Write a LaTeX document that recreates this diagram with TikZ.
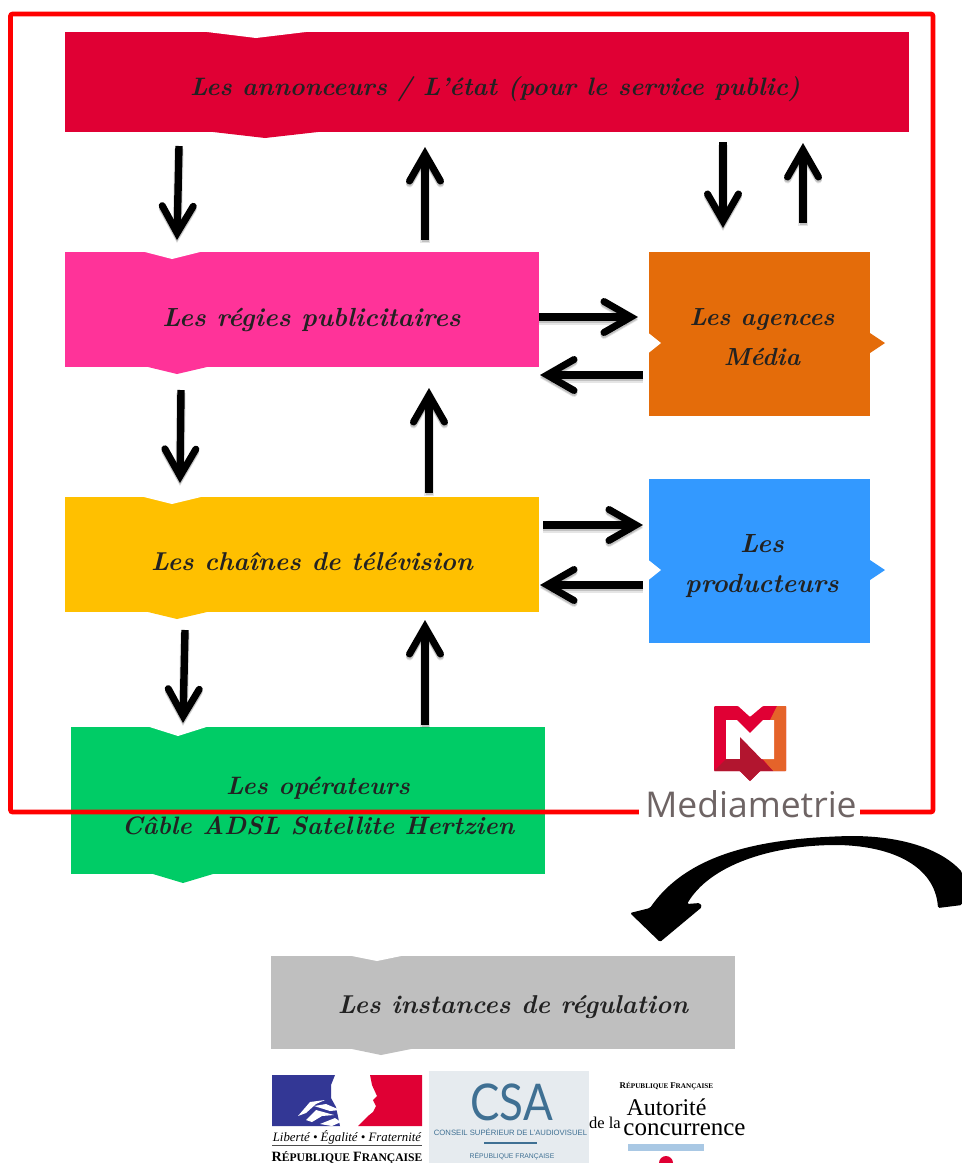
\documentclass[tikz,border=0pt]{standalone}
\usepackage{fontspec}
\usetikzlibrary{arrows.meta}
\newfontfamily\logofont{Open Sans}
\newfontfamily\csafont{Lato}
\newfontfamily\serifB{Liberation Serif}
\newfontfamily\sansB{Liberation Sans}
\definecolor{cred}{HTML}{E00034}
\definecolor{cpink}{HTML}{FF3399}
\definecolor{cyellow}{HTML}{FFC000}
\definecolor{cgreen}{HTML}{00CC66}
\definecolor{corange}{HTML}{E46C0A}
\definecolor{cblue}{HTML}{3399FF}
\definecolor{cgray}{HTML}{BFBFBF}
\definecolor{cframe}{HTML}{FF0000}
\definecolor{ink}{HTML}{222222}
\definecolor{mgray}{HTML}{6E6464}
\definecolor{csablue}{HTML}{3F7093}
\definecolor{morange}{HTML}{E5632A}
\definecolor{mdark}{HTML}{B2152F}
\definecolor{rfblue}{HTML}{333795}
\definecolor{csabg}{HTML}{E6EBEF}
\definecolor{acbar}{HTML}{A9C8E4}
\tikzset{
  box/.style={rectangle,inner sep=0pt,outer sep=0pt,draw=none},
  tx/.style={font=\fontsize{#1}{40}\selectfont\itshape\bfseries,text=ink,align=center,inner sep=0pt},
  arr/.style={line width=7.4pt,draw=black,
    -{Straight Barb[length=27pt,width=31pt,line width=7pt,line cap=round,line join=miter]},
    preaction={draw=black,opacity=.10,line width=9.5pt,transform canvas={yshift=-3pt}},
    preaction={draw=black,opacity=.15,line width=7pt,transform canvas={yshift=-2pt}}},
  small/.style={inner sep=0pt,outer sep=0pt},
}
\begin{document}
\begin{tikzpicture}[x=1pt,y=-1pt]
\useasboundingbox (0,0) rectangle (962,1163);
\fill[white] (0,0) rectangle (962,1163);

% boxes
\node[box,fill=cred,minimum width=844pt,minimum height=100pt] (annon) at (487,82) {};
\node[box,fill=cpink,minimum width=474pt,minimum height=115pt] (regies) at (302,309.5) {};
\node[box,fill=cyellow,minimum width=474pt,minimum height=115pt] (chaines) at (302,554.5) {};
\node[box,fill=cgreen,minimum width=474pt,minimum height=147pt] (oper) at (308,800.5) {};
\node[box,fill=corange,minimum width=221pt,minimum height=164pt] (agences) at (759.5,334) {};
\node[box,fill=cblue,minimum width=221pt,minimum height=164pt] (prod) at (759.5,561) {};
\node[box,fill=cgray,minimum width=464pt,minimum height=93.5pt] (inst) at (503,1002.25) {};

% notches and points
\fill[white] (203,31.5) -- (256,38) -- (310,31.5) -- cycle;
\fill[cred] (213,132) -- (265,138) -- (318,132) -- cycle;
\fill[white] (143,251.5) -- (172,259) -- (202,251.5) -- cycle;
\fill[cpink] (148,367) -- (177,374) -- (207,367) -- cycle;
\fill[white] (142,496.5) -- (172,504) -- (203,496.5) -- cycle;
\fill[cyellow] (148,612) -- (177,619) -- (207,612) -- cycle;
\fill[white] (148,726.5) -- (178,736) -- (208,726.5) -- cycle;
\fill[cgreen] (153,874) -- (183,883) -- (213,874) -- cycle;
\fill[white] (648.5,333) -- (661,343) -- (648.5,353) -- cycle;
\fill[corange] (870,333) -- (885,343) -- (870,353) -- cycle;
\fill[white] (648.5,560) -- (661,570) -- (648.5,580) -- cycle;
\fill[cblue] (870,560) -- (885,570) -- (870,580) -- cycle;
\fill[white] (347,955) -- (377,961) -- (406,955) -- cycle;
\fill[cgray] (352,1049) -- (381,1055) -- (411,1049) -- cycle;

% texts
\node[tx=25.2] (t1) at (495,89) {Les annonceurs / L’état (pour le service public)};
\node[tx=26.2] (t2) at (311.5,320) {Les régies publicitaires};
\node[tx=25.8] (t3) at (312,562) {Les chaînes de télévision};
\node[tx=25.2] (t4) at (318,806) {Les opérateurs\\Câble ADSL Satellite Hertzien};
\node[tx=24.7] (t5) at (762,337) {Les agences\\Média};
\node[tx=26.3] (t6) at (762,566) {Les\\producteurs};
\node[tx=25.8] (t7) at (513,1007) {Les instances de régulation};

% arrows
\draw[arr] ([xshift=114pt,yshift=-14pt]annon.south west) -- ([xshift=112pt,yshift=12pt]regies.north west);
\draw[arr] ([xshift=360pt,yshift=12pt]regies.north west) -- ([xshift=360pt,yshift=-15pt]annon.south west);
\draw[arr] ([xshift=658pt,yshift=-10pt]annon.south west) -- ([xshift=74pt,yshift=24pt]agences.north west);
\draw[arr] ([xshift=154pt,yshift=29pt]agences.north west) -- ([xshift=738pt,yshift=-11pt]annon.south west);
\draw[arr] ([yshift=-7.5pt]regies.east) -- ([xshift=-11pt,yshift=17pt]agences.west);
\draw[arr] ([xshift=-6pt,yshift=-41pt]agences.west) -- ([xshift=1pt,yshift=-65.5pt]regies.east);
\draw[arr] ([xshift=116pt,yshift=-23pt]regies.south west) -- ([xshift=115pt,yshift=14pt]chaines.north west);
\draw[arr] ([xshift=364pt,yshift=4pt]chaines.north west) -- ([xshift=364pt,yshift=-21pt]regies.south west);
\draw[arr] ([xshift=4pt,yshift=29.5pt]chaines.east) -- ([xshift=-6pt,yshift=36pt]prod.west);
\draw[arr] ([xshift=-6pt,yshift=-24pt]prod.west) -- ([xshift=1pt,yshift=-30.5pt]chaines.east);
\draw[arr] ([xshift=120pt,yshift=-18pt]chaines.south west) -- ([xshift=112pt,yshift=4pt]oper.north west);
\draw[arr] ([xshift=354pt,yshift=2pt]oper.north west) -- ([xshift=360pt,yshift=-8pt]chaines.south west);

% big frame
\draw[cframe,line width=4.6pt,rounded corners=2pt] (10.5,14) rectangle (933,812);

% Mediametrie logo
\node[small,fill=white,minimum width=221pt,minimum height=30pt] (mbg) at (749.5,803) {};
\node[small,font=\logofont\fontsize{35.5}{36}\selectfont,text=mgray,anchor=base] (mtxt) at (751,817) {Mediametrie};
\fill[cred,rounded corners=1pt] (714,706) -- (738,706) -- (750,717) -- (763,706) -- (786,706) -- (786,771) -- (760,771) -- (750,781) -- (740,771) -- (714,771) -- cycle;
\fill[morange] (777,706) -- (786,706) -- (786,771) -- (773,771) -- (755,750) -- cycle;
\fill[white] (726,720) -- (737,720) -- (750,733) -- (763,720) -- (774,720) -- (774,759) -- (726,759) -- cycle;
\fill[mdark] (740,737) -- (773,771) -- (760,771) -- (750,781) -- (740,771) -- (714,771) -- (726,759) -- (740,759) -- cycle;

% curved arrow
\fill[black,rounded corners=1.5pt] (962,872) .. controls (940,848) and (900,836) .. (850,836)
  .. controls (770,838) and (690,850) .. (650,908)
  -- (630,913) -- (660,942) -- (702,907) -- (700,903) -- (687,904)
  .. controls (710,865) and (770,846) .. (833,845)
  .. controls (890,845) and (935,865) .. (938,908)
  -- (962,905) -- cycle;

% RF logo
\fill[rfblue] (272,1075) -- (335,1075) -- (331,1085) -- (331,1098) -- (336,1107) -- (340,1126) -- (272,1126) -- cycle;
\fill[cred] (370,1075) -- (422,1075) -- (422,1126) -- (358,1126) -- (368,1116) -- (373,1112) -- (376,1106) -- (373,1100) -- (377,1096) -- (372,1085) -- cycle;
\fill[white] (298,1116) -- (310,1102) -- (325,1100) -- (316,1104) -- (306,1113) -- cycle;
\fill[white] (306,1120) -- (316,1110) -- (334,1115) -- (322,1116) -- (312,1122) -- cycle;
\fill[white] (320,1124) -- (335,1118) -- (341,1122) -- (332,1126) -- cycle;
\fill[white] (314,1106) -- (326,1104) -- (340,1110) -- (330,1111) -- cycle;
\node[small,font=\serifB\itshape\fontsize{12.8}{13}\selectfont,anchor=base] (rf1) at (347,1141) {Liberté • Égalité • Fraternité};
\coordinate (rfa) at (272,1145);
\coordinate (rfb) at (422,1145);
\draw[black!70,line width=.7pt] (rfa) -- (rfb);
\node[small,font=\serifB\bfseries\fontsize{11.6}{13}\selectfont,anchor=base] (rf2) at (347,1161) {{\fontsize{14.2}{13}\selectfont R}ÉPUBLIQUE {\fontsize{14.2}{13}\selectfont F}RANÇAISE};

% CSA panel
\fill[csabg] (429,1071) rectangle (589,1163);
\node[small,font=\csafont\fontsize{44}{44}\selectfont,text=csablue,anchor=base] (csa) at (511.5,1120) {\scalebox{1}[1.15]{CSA}};
\node[small,font=\sansB\fontsize{7.7}{8}\selectfont,text=csablue,anchor=base] (csa2) at (510.5,1135) {CONSEIL SUPÉRIEUR DE L’AUDIOVISUEL};
\coordinate (csaa) at (484,1143);
\coordinate (csab) at (537,1143);
\draw[csablue,line width=1.2pt] (csaa) -- (csab);
\node[small,font=\sansB\fontsize{6.8}{8}\selectfont,text=csablue,anchor=base] (csa3) at (512,1158) {RÉPUBLIQUE FRANÇAISE};

% Autorité
\node[small,font=\serifB\fontsize{16.5}{17}\selectfont,anchor=base] (dela) at (605,1128) {de la};
\node[small,font=\serifB\bfseries\fontsize{7.2}{8}\selectfont,anchor=base] (ac0) at (666.5,1088) {{\fontsize{8.8}{8}\selectfont R}ÉPUBLIQUE {\fontsize{8.8}{8}\selectfont F}RANÇAISE};
\node[small,font=\serifB\fontsize{24}{24}\selectfont,anchor=base] (ac1) at (666.5,1115) {Autorité};
\node[small,font=\serifB\fontsize{25}{25}\selectfont,anchor=base] (ac2) at (684.5,1135) {concurrence};
\fill[acbar] (628,1144) rectangle (704,1151);
\fill[cred] (666,1163) circle (7);
\end{tikzpicture}
\end{document}
